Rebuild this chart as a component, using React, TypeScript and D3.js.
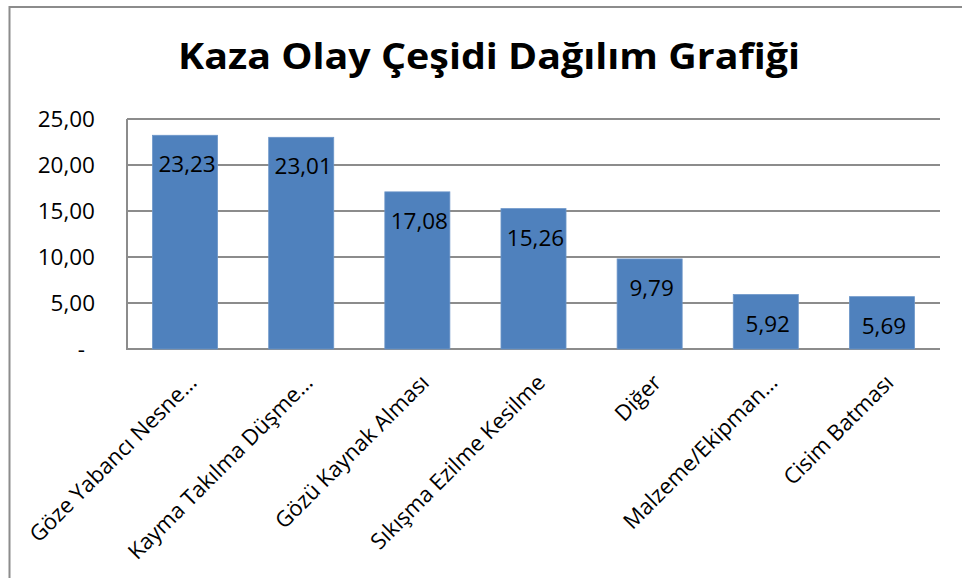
import React from "react";
import * as d3 from "d3";

const categories = [
  "Göze Yabancı Nesne…",
  "Kayma Takılma Düşme…",
  "Gözü Kaynak Alması",
  "Sıkışma Ezilme Kesilme",
  "Diğer",
  "Malzeme/Ekipman…",
  "Cisim Batması",
];
const values = [23.23, 23.01, 17.08, 15.26, 9.79, 5.92, 5.69];
const yTicks = [0, 5, 10, 15, 20, 25];
const title = "Kaza Olay Çeşidi Dağılım Grafiği";

const W = 962;
const H = 578;
const M = { left: 127, right: 940, top: 119, bottom: 349 };
const FONT = "Open Sans";

const fmt = (v: number) => (v === 0 ? "-" : v.toFixed(2).replace(".", ","));

export default function App() {
  const x = d3
    .scaleBand<string>()
    .domain(categories)
    .range([M.left, M.right])
    .paddingInner(0.44)
    .paddingOuter(0.22);
  const y = d3.scaleLinear().domain([0, 25]).range([M.bottom, M.top]);
  const grid = "#8c8c8c";

  return (
    <svg
      width={W}
      height={H}
      style={{ position: "absolute", left: 0, top: 0, background: "#fff" }}
    >
      <path d={`M9.5,${H + 5} V7 H${W + 5}`} fill="none" stroke={grid} strokeWidth={2} />
      <text
        x={489}
        y={69}
        textAnchor="middle"
        fontFamily={FONT}
        fontWeight="bold"
        fontSize={35}
        textLength={622}
        lengthAdjust="spacingAndGlyphs"
        fill="#000"
      >
        {title}
      </text>
      {yTicks.map((t) => (
        <line
          key={"g" + t}
          x1={M.left}
          x2={M.right}
          y1={y(t)}
          y2={y(t)}
          stroke={grid}
          strokeWidth={2}
        />
      ))}
      <line x1={M.left} x2={M.left} y1={M.top} y2={M.bottom + 1} stroke={grid} strokeWidth={2} />
      {yTicks.map((t) => (
        <text
          key={"yl" + t}
          x={t === 0 ? 85 : 95}
          y={y(t)}
          dy="0.36em"
          textAnchor="end"
          fontFamily={FONT}
          fontSize={22.5}
          fill="#000"
        >
          {fmt(t)}
        </text>
      ))}
      {values.map((v, i) => (
        <rect
          key={"b" + i}
          x={x(categories[i])!}
          y={y(v)}
          width={x.bandwidth()}
          height={y(0) - y(v)}
          fill="#4f81bd"
          stroke="#6d96c9"
          strokeWidth={0.8}
        />
      ))}
      {values.map((v, i) => (
        <text
          key={"v" + i}
          x={x(categories[i])! + x.bandwidth() / 2 + 2}
          y={y(v) + 37}
          textAnchor="middle"
          fontFamily={FONT}
          fontSize={22.5}
          fill="#000"
        >
          {fmt(v)}
        </text>
      ))}
      {categories.map((c) => {
        const cx = x(c)! + x.bandwidth() / 2 + 13;
        const cy = 384;
        return (
          <text
            key={"x" + c}
            transform={`translate(${cx},${cy}) rotate(-45)`}
            textAnchor="end"
            fontFamily={FONT}
            fontSize={22}
            fill="#000"
          >
            {c}
          </text>
        );
      })}
    </svg>
  );
}
